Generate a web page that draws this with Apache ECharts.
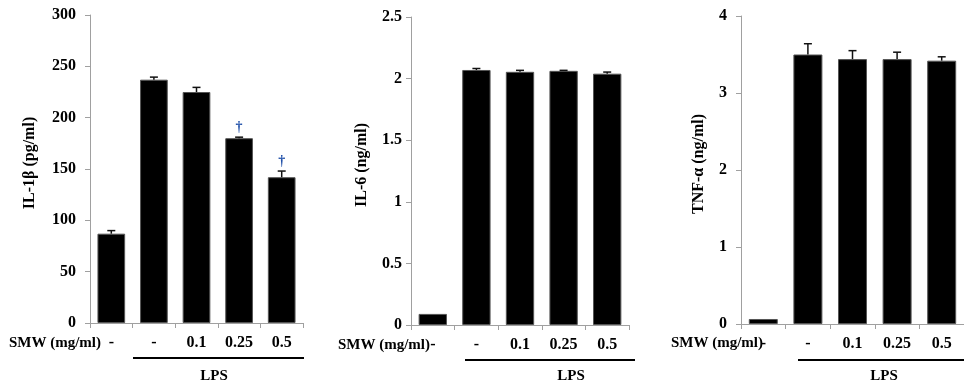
<!DOCTYPE html>
<html>
<head>
<meta charset="utf-8">
<script src="https://cdn.jsdelivr.net/npm/echarts@6/dist/echarts.min.js"></script>
<style>
  html, body { margin: 0; padding: 0; background: #fff; }
  #chart { width: 964px; height: 382px; }
</style>
</head>
<body>
<div id="chart"></div>
<script>
// categories (first one is without LPS)
const categories = ["-", "-", "0.1", "0.25", "0.5"];

// IL-1b (pg/ml)
const il1b = [87, 237, 225, 180, 142];
const il1bErr = [3, 2.5, 4.5, 1, 6];
const il1bMarks = ["", "", "", "†", "†"];

// IL-6 (ng/ml)
const il6 = [0.09, 2.07, 2.055, 2.063, 2.04];
const il6Err = [0, 0.012, 0.012, 0.004, 0.013];

// TNF-a (ng/ml)
const tnf = [0.065, 3.5, 3.44, 3.44, 3.42];
const tnfErr = [0, 0.14, 0.11, 0.09, 0.05];

const FONT = "'Liberation Serif', 'Times New Roman', serif";
const AXIS_GRAY = "#a0a0a0";

const chart = echarts.init(document.getElementById("chart"));

const grids = [
  { left: 90, top: 15, width: 213, height: 308 },
  { left: 411, top: 17, width: 218, height: 308 },
  { left: 741, top: 16, width: 231, height: 308 },
];

const panels = [
  { name: "IL-1β (pg/ml)", max: 300, interval: 50, data: il1b, err: il1bErr, marks: il1bMarks, nameGap: 52, labelMargin: 14 },
  { name: "IL-6 (ng/ml)", max: 2.5, interval: 0.5, data: il6, err: il6Err, marks: null, nameGap: 41, labelMargin: 9 },
  { name: "TNF-α (ng/ml)", max: 4, interval: 1, data: tnf, err: tnfErr, marks: null, nameGap: 34, labelMargin: 14 },
];

const xAxes = panels.map((p, i) => ({
  type: "category",
  gridIndex: i,
  data: categories,
  axisLine: { lineStyle: { color: AXIS_GRAY, width: 1 } },
  axisTick: { show: true, length: 5, lineStyle: { color: AXIS_GRAY } },
  axisLabel: { color: "#000", fontFamily: FONT, fontWeight: "bold", fontSize: 16, margin: 12 },
}));

const yAxes = panels.map((p, i) => ({
  type: "value",
  gridIndex: i,
  min: 0,
  max: p.max,
  interval: p.interval,
  name: p.name,
  nameLocation: "middle",
  nameRotate: 90,
  nameGap: p.nameGap,
  nameTextStyle: { color: "#000", fontFamily: FONT, fontWeight: "bold", fontSize: 16, padding: [0, 0, 0, 12] },
  splitLine: { show: false },
  axisLine: { show: true, lineStyle: { color: AXIS_GRAY, width: 1 } },
  axisTick: { show: true, length: 5, lineStyle: { color: AXIS_GRAY } },
  axisLabel: { color: "#000", fontFamily: FONT, fontWeight: "bold", fontSize: 16, margin: p.labelMargin },
}));

const series = [];
panels.forEach((p, i) => {
  series.push({
    type: "bar",
    xAxisIndex: i,
    yAxisIndex: i,
    barWidth: "65%",
    data: p.data,
    itemStyle: { color: "#000", borderColor: "#555", borderWidth: 1 },
    z: 2,
  });
  series.push({
    type: "custom",
    xAxisIndex: i,
    yAxisIndex: i,
    z: 3,
    data: p.data.map((v, k) => [k, v, p.err[k]]),
    renderItem: function (params, api) {
      const base = api.coord([api.value(0), api.value(1)]);
      const top = api.coord([api.value(0), api.value(1) + api.value(2)]);
      const children = [];
      if (api.value(2) > 0) {
        children.push({
          type: "line",
          shape: { x1: base[0], y1: base[1], x2: top[0], y2: top[1] },
          style: { stroke: "#111", lineWidth: 1.5 },
        });
        children.push({
          type: "line",
          shape: { x1: top[0] - 4, y1: top[1], x2: top[0] + 4, y2: top[1] },
          style: { stroke: "#111", lineWidth: 1.5 },
        });
      }
      const mark = p.marks ? p.marks[params.dataIndex] : "";
      if (mark) {
        children.push({
          type: "text",
          style: {
            text: mark, x: top[0], y: top[1] - 3,
            align: "center", verticalAlign: "bottom",
            fill: "#1f4fa8", font: "bold 14px " + FONT,
          },
        });
      }
      return { type: "group", children: children };
    },
  });
});

const txt = (s, x, y, align) => ({
  type: "text",
  x: x, y: y,
  style: { text: s, font: "bold 15px " + FONT, fill: "#000", align: align, verticalAlign: "middle" },
});
const rule = (x1, x2, y) => ({
  type: "line",
  shape: { x1: x1, y1: y, x2: x2, y2: y },
  style: { stroke: "#000", lineWidth: 2 },
});

const option = {
  animation: false,
  grid: grids,
  xAxis: xAxes,
  yAxis: yAxes,
  series: series,
  graphic: [
    txt("SMW (mg/ml)", 101, 343, "right"),
    txt("SMW (mg/ml)", 430, 345, "right"),
    txt("SMW (mg/ml)", 763, 343, "right"),
    rule(133, 304, 358),
    rule(465, 635, 360),
    rule(798, 964, 360),
    txt("LPS", 214, 376, "center"),
    txt("LPS", 571, 376, "center"),
    txt("LPS", 884, 376, "center"),
  ],
};

chart.setOption(option);
</script>
</body>
</html>
